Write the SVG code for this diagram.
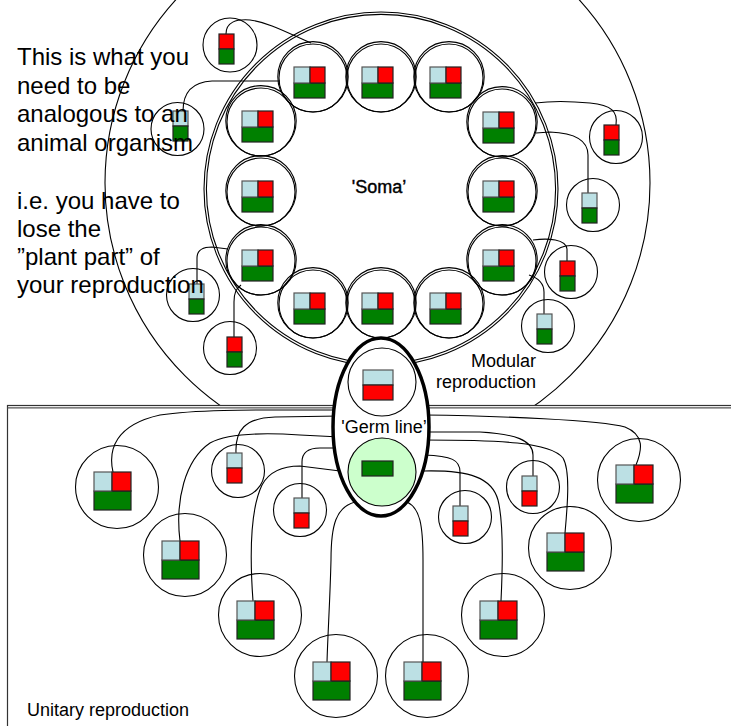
<svg xmlns="http://www.w3.org/2000/svg" xmlns:xlink="http://www.w3.org/1999/xlink" width="731" height="726" viewBox="0 0 731 726">
<style>
.ln{fill:none;stroke:#000;stroke-width:1.1}
.cir{fill:none;stroke:#000;stroke-width:1.1}
.lb{fill:#BCE0E4;stroke:#555;stroke-width:1.2}
.rd{fill:#FF0000;stroke:#222;stroke-width:1.2}
.gr{fill:#008000;stroke:#222;stroke-width:1.2}
.txt{font-family:"Liberation Sans",Arial,sans-serif;fill:#000}
</style>
<defs>
<g id="i31"><rect class="gr" x="0" y="16" width="31" height="15"/><rect class="lb" x="0" y="0" width="16" height="16"/><rect class="rd" x="16" y="0" width="15" height="16"/></g>
<g id="i37"><rect class="gr" x="0" y="19" width="37" height="19"/><rect class="lb" x="0" y="0" width="18" height="19"/><rect class="rd" x="18" y="0" width="19" height="19"/></g>
<g id="sRG"><rect class="rd" x="0" y="0" width="15" height="15"/><rect class="gr" x="0" y="15" width="15" height="15"/></g>
<g id="sBG"><rect class="lb" x="0" y="0" width="15" height="15"/><rect class="gr" x="0" y="15" width="15" height="15"/></g>
<g id="sBR"><rect class="lb" x="0" y="0" width="15" height="15"/><rect class="rd" x="0" y="15" width="15" height="15"/></g>
<g id="ring"><circle class="cir" cx="0" cy="0" r="34"/><circle class="cir" cx="0" cy="-1.2" r="35.2"/></g>
</defs>

<!-- modular region -->
<circle id="modular" class="cir" cx="377.5" cy="183" r="272.5"/>
<!-- unitary region -->
<g id="unitary">
<rect x="7.5" y="405.5" width="740" height="340" fill="#fff" stroke="#333" stroke-width="1.2"/>
<line x1="7.5" y1="407.8" x2="731" y2="407.8" stroke="#555" stroke-width="1.2"/>
</g>

<!-- soma -->
<g id="soma">
<circle class="cir" cx="381" cy="189" r="177"/>
<circle class="cir" cx="381" cy="189" r="174.6"/>
</g>

<g id="ring-nodes">
<g id="r1"><use xlink:href="#ring" x="313" y="78"/><use xlink:href="#i31" x="294" y="67"/></g>
<g id="r2"><use xlink:href="#ring" x="381" y="78"/><use xlink:href="#i31" x="362" y="67"/></g>
<g id="r3"><use xlink:href="#ring" x="449" y="78"/><use xlink:href="#i31" x="430" y="67"/></g>
<g id="r4"><use xlink:href="#ring" x="502" y="123"/><use xlink:href="#i31" x="483" y="112"/></g>
<g id="r5"><use xlink:href="#ring" x="502" y="192"/><use xlink:href="#i31" x="483" y="181"/></g>
<g id="r6"><use xlink:href="#ring" x="502" y="261"/><use xlink:href="#i31" x="483" y="250"/></g>
<g id="r7"><use xlink:href="#ring" x="449" y="304"/><use xlink:href="#i31" x="430" y="293"/></g>
<g id="r8"><use xlink:href="#ring" x="381" y="304"/><use xlink:href="#i31" x="362" y="293"/></g>
<g id="r9"><use xlink:href="#ring" x="313" y="304"/><use xlink:href="#i31" x="294" y="293"/></g>
<g id="r10"><use xlink:href="#ring" x="261" y="261"/><use xlink:href="#i31" x="242" y="250"/></g>
<g id="r11"><use xlink:href="#ring" x="261" y="192"/><use xlink:href="#i31" x="242" y="181"/></g>
<g id="r12"><use xlink:href="#ring" x="261" y="122"/><use xlink:href="#i31" x="242" y="111"/></g>
</g>

<g id="connectors">
<path class="ln" d="M226,34 C226,22 236,19 250,20 C268,22 290,34 311,43"/>
<path class="ln" d="M183,111 C183,92 192,82 212,81 L280,81"/>
<path class="ln" d="M616,125 C618,112 612,105 590,103 C570,101 550,101 535,103"/>
<path class="ln" d="M588,193 L588,155 C588,140 575,133 550,132 L536,133"/>
<path class="ln" d="M567,261 L567,249 C566,239 548,238 533,240"/>
<path class="ln" d="M544,314 L544,292 C544,283 538,278 529,275"/>
<path class="ln" d="M197,284 L197,258 C197,250 202,247 212,247 L228,249"/>
<path class="ln" d="M234,337 L234,302 C234,293 236,289 241,285"/>

<path class="ln" d="M113,472 C108,450 115,425 160,415 C200,409 260,410 340,410"/>
<path class="ln" d="M236,453 C235,430 245,418 275,417 L340,416"/>
<path class="ln" d="M180,541 C175,500 185,460 210,443 C230,432 270,433 300,435 L340,437"/>
<path class="ln" d="M302,498 L302,462 C302,452 308,448 320,448 L340,448"/>
<path class="ln" d="M253,601 C250,560 250,510 262,485 C270,470 285,466 300,466 L340,471"/>
<path class="ln" d="M327,662 C328,630 330,600 331,560 C331,525 336,507 355,502"/>
<path class="ln" d="M423,662 L423,560 C423,525 420,508 407,502"/>
<path class="ln" d="M460,506 L460,472 C460,460 452,456 424,455"/>
<path class="ln" d="M501,601 C503,560 503,520 498,500 C492,478 470,470 424,471"/>
<path class="ln" d="M533,476 L533,455 C533,440 515,434 480,432 L424,432"/>
<path class="ln" d="M565,533 C568,500 570,470 563,458 C550,442 500,440 424,440"/>
<path class="ln" d="M636,465 C642,450 645,435 625,427 C600,420 500,416 424,415"/>
</g>

<g id="t1"><circle class="cir" cx="230" cy="45" r="27"/><use xlink:href="#sRG" x="219" y="34"/></g>
<g id="t2"><circle class="cir" cx="177.5" cy="129" r="26.5"/><use xlink:href="#sBG" x="173" y="111"/></g>
<g id="t3"><circle class="cir" cx="616" cy="137" r="26.5"/><use xlink:href="#sRG" x="604" y="125"/></g>
<g id="t4"><circle class="cir" cx="593" cy="205" r="26.5"/><use xlink:href="#sBG" x="582" y="193"/></g>
<g id="t5"><circle class="cir" cx="571" cy="272" r="26.5"/><use xlink:href="#sRG" x="560" y="261"/></g>
<g id="t6"><circle class="cir" cx="548" cy="326" r="26.5"/><use xlink:href="#sBG" x="537" y="314"/></g>
<g id="t7"><circle class="cir" cx="193" cy="295" r="26.5"/><use xlink:href="#sBG" x="189" y="284"/></g>
<g id="t8"><circle class="cir" cx="230" cy="348" r="26.5"/><use xlink:href="#sRG" x="227" y="337"/></g>

<g id="b1"><circle class="cir" cx="117" cy="487" r="41.5"/><use xlink:href="#i37" x="94" y="472"/></g>
<g id="b2"><circle class="cir" cx="185" cy="555" r="41.5"/><use xlink:href="#i37" x="162" y="541"/></g>
<g id="b3"><circle class="cir" cx="260" cy="615" r="41.5"/><use xlink:href="#i37" x="237" y="601"/></g>
<g id="b4"><circle class="cir" cx="336" cy="676" r="41.5"/><use xlink:href="#i37" x="313" y="662"/></g>
<g id="b5"><circle class="cir" cx="427" cy="676" r="41.5"/><use xlink:href="#i37" x="404" y="662"/></g>
<g id="b6"><circle class="cir" cx="503" cy="615" r="41.5"/><use xlink:href="#i37" x="480" y="601"/></g>
<g id="b7"><circle class="cir" cx="570" cy="548" r="41.5"/><use xlink:href="#i37" x="547" y="533"/></g>
<g id="b8"><circle class="cir" cx="639" cy="480" r="41.5"/><use xlink:href="#i37" x="616" y="465"/></g>

<g id="s1"><circle class="cir" cx="238" cy="471" r="26.5"/><use xlink:href="#sBR" x="227" y="453"/></g>
<g id="s2"><circle class="cir" cx="300" cy="510" r="26.5"/><use xlink:href="#sBR" x="294" y="498"/></g>
<g id="s3"><circle class="cir" cx="533" cy="487" r="26.5"/><use xlink:href="#sBR" x="522" y="476"/></g>
<g id="s4"><circle class="cir" cx="465" cy="517" r="26.5"/><use xlink:href="#sBR" x="453" y="506"/></g>

<g id="germline">
<ellipse cx="381" cy="427" rx="48" ry="89" fill="#fff" stroke="#000" stroke-width="3.5"/>
<circle class="cir" cx="382" cy="382" r="34" fill="#fff"/>
<rect class="lb" x="363" y="370" width="30" height="15"/>
<rect class="rd" x="363" y="385" width="30" height="15"/>
<circle cx="382" cy="472" r="34" fill="#CCFFCC" stroke="#000" stroke-width="1.1"/>
<rect class="gr" x="362" y="461" width="31" height="15"/>
<text class="txt" x="384" y="433" font-size="18" text-anchor="middle">'Germ line’</text>
</g>

<g id="labels">
<text class="txt" x="379" y="193" font-size="18" text-anchor="middle" stroke="#000" stroke-width="0.4">'Soma’</text>
<text class="txt" x="536" y="367" font-size="18" text-anchor="end">Modular</text>
<text class="txt" x="536" y="388" font-size="18" text-anchor="end">reproduction</text>
<text class="txt" x="27" y="716" font-size="18">Unitary reproduction</text>
<text class="txt" font-size="24">
<tspan x="17" y="65">This is what you</tspan>
<tspan x="17" y="93.5">need to be</tspan>
<tspan x="17" y="122">analogous to an</tspan>
<tspan x="17" y="150.5">animal organism</tspan>
<tspan x="17" y="209">i.e. you have to</tspan>
<tspan x="17" y="237">lose the</tspan>
<tspan x="17" y="265">”plant part” of</tspan>
<tspan x="17" y="293">your reproduction</tspan>
</text>
</g>
</svg>
